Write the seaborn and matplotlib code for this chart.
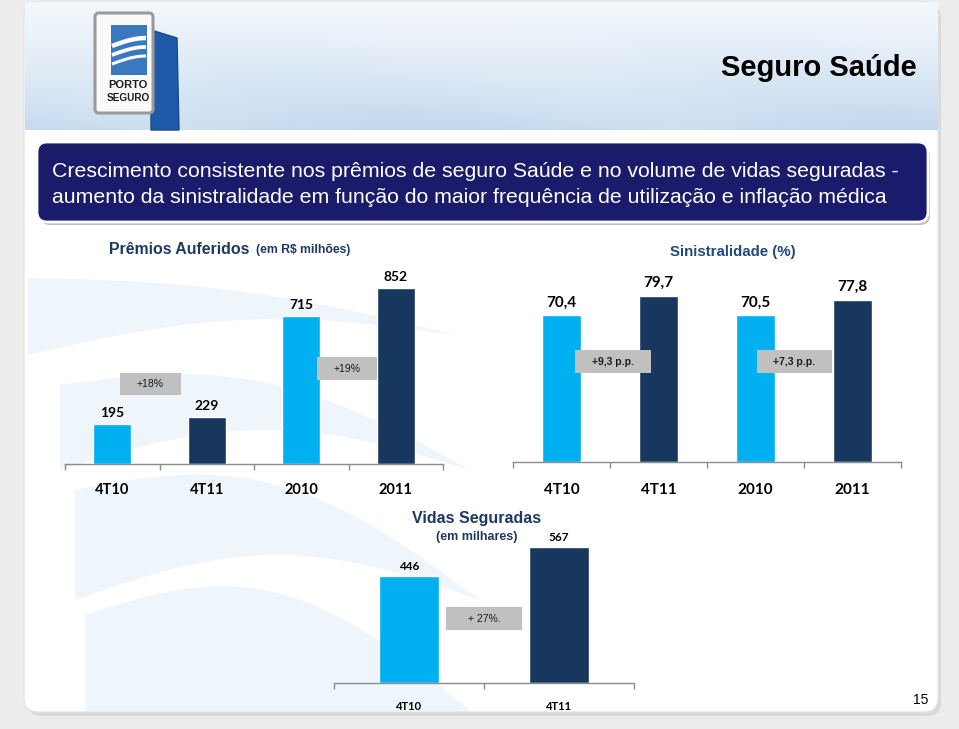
import matplotlib
matplotlib.use("Agg")
import matplotlib.pyplot as plt
import seaborn as sns
import pandas as pd
import numpy as np
from matplotlib.patches import Rectangle, FancyBboxPatch, Polygon

# ---------------- data ----------------
premios_cats = ["4T10", "4T11", "2010", "2011"]
premios_vals = [195, 229, 715, 852]
premios_labels = ["195", "229", "715", "852"]
premios_growth = ["+18%", "+19%"]

sinistr_cats = ["4T10", "4T11", "2010", "2011"]
sinistr_vals = [70.4, 79.7, 70.5, 77.8]
sinistr_labels = ["70,4", "79,7", "70,5", "77,8"]
sinistr_growth = ["+9,3 p.p.", "+7,3 p.p."]

vidas_cats = ["4T10", "4T11"]
vidas_vals = [446, 567]
vidas_labels = ["446", "567"]
vidas_growth = ["+ 27%."]

LIGHT = "#00B0F0"
DARK = "#17375E"
NAVY_TXT = "#1F3864"
BOXGRAY = "#C0C0C0"

W, H = 959, 729
sns.set_theme(style="white")
plt.rcParams['font.family'] = ['Liberation Sans', 'DejaVu Sans']

fig = plt.figure(figsize=(W / 100, H / 100), dpi=100)
fig.patch.set_facecolor("#ECECEC")

# ---------- background / decoration axes in pixel coords ----------
bg = fig.add_axes([0, 0, 1, 1], zorder=0)
bg.axis('off')

# panel shadow + panel
bg.add_patch(FancyBboxPatch((28, 5), 913, 711, boxstyle="round,pad=0,rounding_size=14",
                            facecolor="#D9D9D9", edgecolor="none", zorder=1))
bg.add_patch(FancyBboxPatch((24, 2), 914, 710, boxstyle="round,pad=0,rounding_size=14",
                            facecolor="white", edgecolor="#E2E2E2", lw=0.8, zorder=2))

# faint background swooshes (decorative)
SW = "#EEF6FC"


def band(x0, x1, y_top0, y_top1, bow_top, y_bot0, y_bot1, bow_bot):
    xs = np.linspace(x0, x1, 80)
    u = (xs - x0) / (x1 - x0)
    top = y_top0 + (y_top1 - y_top0) * u - bow_top * np.sin(np.pi * u)
    bot = y_bot0 + (y_bot1 - y_bot0) * u - bow_bot * np.sin(np.pi * u)
    pts = np.vstack([np.column_stack([xs, top]), np.column_stack([xs[::-1], bot[::-1]])])
    return Polygon(pts, closed=True, facecolor=SW, edgecolor="none", zorder=2.5)


bg.add_patch(band(28, 455, 278, 335, 15, 355, 335, 25))
bg.add_patch(band(60, 470, 385, 470, 45, 470, 470, 40))
bg.add_patch(band(75, 480, 490, 600, 60, 600, 600, 45))
bg.add_patch(band(85, 470, 615, 711, 70, 711, 711, 0))

# header gradient
yy, xx = np.mgrid[0:128, 0:913]
t = yy / 128.0
top_c = np.array([0xF4, 0xF8, 0xFC]) / 255
bot_c = np.array([0xC2, 0xD8, 0xEE]) / 255
streak = 0.5 + 0.5 * np.sin((xx * 0.45 - yy * 1.0) / 35.0)
mix = np.clip(t ** 1.1 * (0.8 + 0.2 * streak), 0, 1)
img = top_c * (1 - mix[..., None]) + bot_c * mix[..., None]
bg.imshow(img, extent=(25, 938, 130, 2), zorder=3, aspect='auto', interpolation='bilinear')

# logo
bg.add_patch(Polygon([(151, 30), (177, 38), (179, 130), (151, 130)], closed=True,
                     facecolor="#1E5AA8", edgecolor="#174C8F", lw=1, zorder=4))
bg.add_patch(FancyBboxPatch((95, 13), 58, 100, boxstyle="round,pad=0,rounding_size=4",
                            facecolor="#FAFAFA", edgecolor="#9A9A9A", lw=2.2, zorder=5))
bg.add_patch(Rectangle((111, 25), 36, 50, facecolor="#3A78C0", edgecolor="none", zorder=6))
xs = np.linspace(112, 146, 30)
for k in range(3):
    ys = 46 + k * 9 - 8 * np.sin((xs - 112) / 34 * np.pi / 2)
    bg.plot(xs, ys, color="white", lw=3.2 - k * 0.5, zorder=7, solid_capstyle='butt')
bg.text(128, 85, "PORTO", ha="center", va="center", fontsize=8, fontweight="bold",
        color="#1E1E1E", zorder=8)
bg.text(128, 98, "SEGURO", ha="center", va="center", fontsize=7.2, fontweight="bold",
        color="#1E1E1E", zorder=8)

# header title
bg.text(917, 68, "Seguro Saúde", ha="right", va="center", fontsize=21, fontweight="bold",
        color="black", zorder=8)

# banner
bg.add_patch(FancyBboxPatch((40, 146), 890, 79, boxstyle="round,pad=0,rounding_size=10",
                            facecolor="#BDBDBD", edgecolor="none", zorder=4))
bg.add_patch(FancyBboxPatch((37, 142), 891, 80, boxstyle="round,pad=0,rounding_size=10",
                            facecolor="#1B1B6B", edgecolor="white", lw=2, zorder=5))
bg.text(52, 171, "Crescimento consistente nos prêmios de seguro Saúde e no volume de vidas seguradas -",
        ha="left", va="center", fontsize=15.3, color="white", zorder=8)
bg.text(52, 197, "aumento da sinistralidade em função do maior frequência de utilização e inflação médica",
        ha="left", va="center", fontsize=15.3, color="white", zorder=8)

# page number
bg.text(921, 700, "15", ha="center", va="center", fontsize=10, color="black", zorder=8)

bg.set_xlim(0, W)
bg.set_ylim(H, 0)


# ---------- bar charts ----------
def fx(x):
    return x / W


def make_chart(left, top, right, bottom, cats, vals, labels, ymax, tick_fs, tick_pad, val_fs, val_off):
    ax = fig.add_axes([fx(left), 1 - bottom / H, fx(right - left), (bottom - top) / H], zorder=2)
    df = pd.DataFrame({"cat": cats, "val": vals})
    pal = {c: (LIGHT if i % 2 == 0 else DARK) for i, c in enumerate(cats)}
    sns.barplot(data=df, x="cat", y="val", hue="cat", palette=pal, width=0.4,
                saturation=1, legend=False, ax=ax, errorbar=None)
    n = len(cats)
    ax.set_xlim(-0.5, n - 0.5)
    ax.set_ylim(0, ymax)
    ax.patch.set_alpha(0)
    for s in ["top", "right", "left"]:
        ax.spines[s].set_visible(False)
    ax.spines["bottom"].set_color("#8C8C8C")
    ax.spines["bottom"].set_linewidth(1.0)
    ax.set_yticks([])
    ax.set_xlabel("")
    ax.set_ylabel("")
    ax.set_xticks(np.arange(-0.5, n, 1.0), minor=True)
    ax.tick_params(axis="x", which="minor", bottom=True, length=4, width=1, color="#8C8C8C",
                   direction="out")
    ax.tick_params(axis="x", which="major", bottom=False, length=0, pad=tick_pad)
    for lab in ax.get_xticklabels():
        lab.set_fontfamily(["Lato", "DejaVu Sans"])
        lab.set_fontweight("bold")
        lab.set_fontsize(tick_fs)
        lab.set_color("black")
    for i, (v, s) in enumerate(zip(vals, labels)):
        ax.annotate(s, (i, v), xytext=(0, val_off), textcoords="offset points",
                    ha="center", va="baseline", fontsize=val_fs, fontweight="bold",
                    family=["Lato", "DejaVu Sans"], color="black")
    return ax


ax1 = make_chart(65, 260, 443, 464, premios_cats, premios_vals, premios_labels,
                 204 / 0.2066, 10.5, 14, 10, 5)
ax2 = make_chart(513, 262, 901, 462, sinistr_cats, sinistr_vals, sinistr_labels,
                 200 / 2.088, 11, 15, 11, 6)
ax3 = make_chart(334, 520, 634, 683, vidas_cats, vidas_vals, vidas_labels,
                 163 / 0.24, 8, 12.6, 8.5, 4.3)

# ---------- overlay: titles and growth boxes ----------
ov = fig.add_axes([0, 0, 1, 1], zorder=5)
ov.axis('off')
ov.patch.set_alpha(0)

ov.text(109, 249, "Prêmios Auferidos", ha="left", va="center", fontsize=11.4,
        fontweight="bold", color=NAVY_TXT)
ov.text(256, 250, "(em R$ milhões)", ha="left", va="center", fontsize=8.8,
        fontweight="bold", color=NAVY_TXT)
ov.text(733, 252, "Sinistralidade (%)", ha="center", va="center", fontsize=10.8,
        fontweight="bold", color="#1F497D")
ov.text(477, 519, "Vidas Seguradas", ha="center", va="center", fontsize=11.5,
        fontweight="bold", color=NAVY_TXT)
ov.text(477, 537, "(em milhares)", ha="center", va="center", fontsize=9,
        fontweight="bold", color=NAVY_TXT)

boxes = [
    (120, 373, 61, 22, premios_growth[0], "normal"),
    (317, 357, 60, 23, premios_growth[1], "normal"),
    (575, 350, 76, 23, sinistr_growth[0], "bold"),
    (757, 350, 75, 23, sinistr_growth[1], "bold"),
    (446, 607, 76, 23, vidas_growth[0], "normal"),
]
for (bx, by, bw, bh, txt, wt) in boxes:
    ov.add_patch(Rectangle((bx, by), bw, bh, facecolor=BOXGRAY, edgecolor="none"))
    ov.text(bx + bw / 2, by + bh / 2, txt, ha="center", va="center", fontsize=7.5,
            fontweight=wt, color="#1A1A1A")

ov.set_xlim(0, W)
ov.set_ylim(H, 0)

fig.savefig("out.png", dpi=100, facecolor=fig.get_facecolor())
